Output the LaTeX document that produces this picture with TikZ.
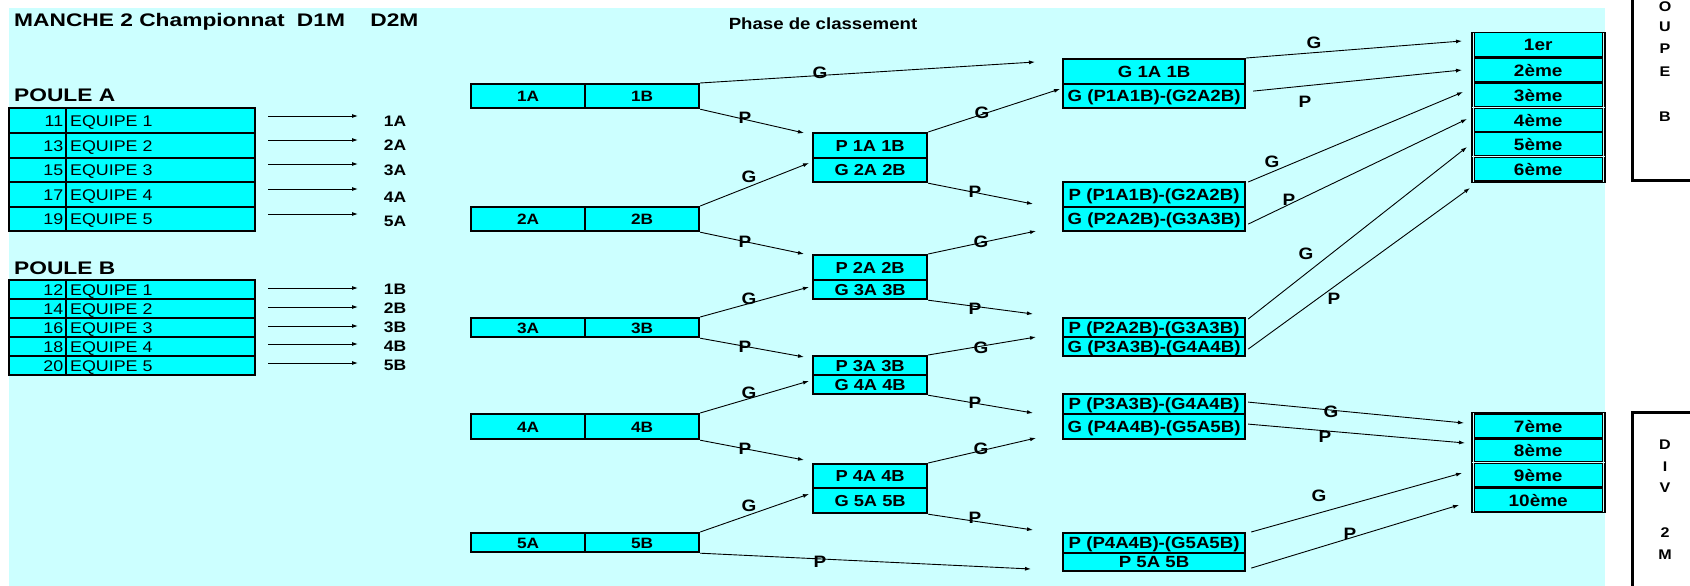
\documentclass[tikz,border=0pt]{standalone}
\usepackage{fontspec}
\setmainfont{Liberation Sans}[FakeStretch=1.15]
\newfontfamily\titlefont{Liberation Sans}[FakeStretch=1.25]
\usetikzlibrary{arrows.meta}
\definecolor{bgcyan}{HTML}{CCFFFF}
\definecolor{boxcyan}{HTML}{00FFFF}
\begin{document}
\begin{tikzpicture}[x=1pt,y=-1pt,
  arr/.style={-{Latex[length=6pt,width=4pt]}, line width=0.9pt},
  tnum/.style={draw=black, fill=boxcyan, line width=2.4pt, anchor=north west, text width=51pt, align=right, inner xsep=3pt, inner ysep=0pt, text height=11.2pt, text depth=0pt, font=\fontsize{15.5}{16}\selectfont},
  tname/.style={draw=black, fill=boxcyan, line width=2.4pt, anchor=north west, text width=181pt, align=left, inner xsep=4pt, inner ysep=0pt, text height=11.2pt, text depth=0pt, font=\fontsize{15.5}{16}\selectfont},
  cell/.style={draw=black, fill=boxcyan, line width=2.2pt, anchor=north west, inner sep=0pt, text height=11pt, text depth=0pt, font=\bfseries\fontsize{15}{16}\selectfont},
  cellb/.style={cell, minimum width=114pt, text height=11.4pt, font=\bfseries\fontsize{15.9}{16}\selectfont},
  cellc/.style={cell, minimum width=182pt, text height=11.6pt, font=\bfseries\fontsize{16.2}{16.5}\selectfont},
  fcell/.style={fill=boxcyan, draw=none, anchor=north west, inner sep=0pt, minimum width=127pt, text height=11.8pt, text depth=0pt, font=\bfseries\fontsize{16.5}{17}\selectfont},
  fback/.style={fill=black, draw=none, anchor=north west, inner sep=0pt, minimum width=135pt},
  lbl/.style={inner sep=0pt, font=\bfseries\fontsize{16.5}{17}\selectfont},
  lab/.style={inner sep=0pt, font=\bfseries\fontsize{15.2}{16}\selectfont},
  vlet/.style={inner sep=0pt, font=\bfseries\fontsize{14}{15}\selectfont},
  gline/.style={line width=3pt, draw=black}
]
\useasboundingbox (0,0) rectangle (1690,586);
\clip (0,0) rectangle (1690,586);
\fill[white] (0,0) rectangle (1690,586);
\fill[bgcyan] (9,8) rectangle (1605,586);

% titles
\node[inner sep=0pt, anchor=west, font=\titlefont\bfseries\fontsize{18.2}{19}\selectfont] (title) at (14,22) {MANCHE 2 Championnat\hspace{6pt} D1M\hspace{19pt} D2M};
\node[inner sep=0pt, font=\bfseries\fontsize{16.2}{17}\selectfont] (phase) at (823,24) {Phase de classement};
\node[inner sep=0pt, anchor=west, font=\titlefont\bfseries\fontsize{18.2}{19}\selectfont] (pouleA) at (14,95) {POULE A};
\node[inner sep=0pt, anchor=west, font=\titlefont\bfseries\fontsize{18.2}{19}\selectfont] (pouleB) at (14,268) {POULE B};

% poule A table
\node[tnum, minimum height=25pt] (pa1n) at (8,107) {11};
\node[tname, minimum height=25pt] (pa1t) at (65,107) {EQUIPE 1};
\node[tnum, minimum height=25pt] (pa2n) at (8,132) {13};
\node[tname, minimum height=25pt] (pa2t) at (65,132) {EQUIPE 2};
\node[tnum, minimum height=24pt] (pa3n) at (8,157) {15};
\node[tname, minimum height=24pt] (pa3t) at (65,157) {EQUIPE 3};
\node[tnum, minimum height=25pt] (pa4n) at (8,181) {17};
\node[tname, minimum height=25pt] (pa4t) at (65,181) {EQUIPE 4};
\node[tnum, minimum height=24pt] (pa5n) at (8,206) {19};
\node[tname, minimum height=24pt] (pa5t) at (65,206) {EQUIPE 5};

% poule B table
\node[tnum, minimum height=19pt] (pb1n) at (8,279) {12};
\node[tname, minimum height=19pt] (pb1t) at (65,279) {EQUIPE 1};
\node[tnum, minimum height=19pt] (pb2n) at (8,298) {14};
\node[tname, minimum height=19pt] (pb2t) at (65,298) {EQUIPE 2};
\node[tnum, minimum height=19pt] (pb3n) at (8,317) {16};
\node[tname, minimum height=19pt] (pb3t) at (65,317) {EQUIPE 3};
\node[tnum, minimum height=19pt] (pb4n) at (8,336) {18};
\node[tname, minimum height=19pt] (pb4t) at (65,336) {EQUIPE 4};
\node[tnum, minimum height=19pt] (pb5n) at (8,355) {20};
\node[tname, minimum height=19pt] (pb5t) at (65,355) {EQUIPE 5};

% poule arrows and labels
\foreach \i/\ya/\yl in {1/116/121, 2/140/145, 3/164/170, 4/189/197, 5/214/221} {
  \coordinate (as\i) at (268,\ya);
  \coordinate (ae\i) at (358,\ya);
  \draw[arr] (as\i) -- (ae\i);
  \node[lab] (la\i) at (395,\yl) {\i A};
}
\foreach \i/\ya/\yl in {1/288/289, 2/307/308, 3/326/327, 4/344/346, 5/363/365} {
  \coordinate (bs\i) at (268,\ya);
  \coordinate (be\i) at (358,\ya);
  \draw[arr] (bs\i) -- (be\i);
  \node[lab] (lb\i) at (395,\yl) {\i B};
}

% round 1 pair boxes
\node[cell, minimum width=114pt, minimum height=24pt] (r1a1) at (470,83) {1A};
\node[cell, minimum width=114pt, minimum height=24pt] (r1b1) at (584,83) {1B};
\node[cell, minimum width=114pt, minimum height=24pt] (r1a2) at (470,206) {2A};
\node[cell, minimum width=114pt, minimum height=24pt] (r1b2) at (584,206) {2B};
\node[cell, minimum width=114pt, minimum height=19pt] (r1a3) at (470,317) {3A};
\node[cell, minimum width=114pt, minimum height=19pt] (r1b3) at (584,317) {3B};
\node[cell, minimum width=114pt, minimum height=25pt] (r1a4) at (470,413) {4A};
\node[cell, minimum width=114pt, minimum height=25pt] (r1b4) at (584,413) {4B};
\node[cell, minimum width=114pt, minimum height=19pt] (r1a5) at (470,532) {5A};
\node[cell, minimum width=114pt, minimum height=19pt] (r1b5) at (584,532) {5B};

% round 2 boxes
\node[cellb, minimum height=25pt] (s1t) at (812,132) {P 1A 1B};
\node[cellb, minimum height=24pt] (s1b) at (812,157) {G 2A 2B};
\node[cellb, minimum height=25pt] (s2t) at (812,254) {P 2A 2B};
\node[cellb, minimum height=19pt] (s2b) at (812,279) {G 3A 3B};
\node[cellb, minimum height=19pt] (s3t) at (812,355) {P 3A 3B};
\node[cellb, minimum height=19pt] (s3b) at (812,374) {G 4A 4B};
\node[cellb, minimum height=24pt] (s4t) at (812,463) {P 4A 4B};
\node[cellb, minimum height=25pt] (s4b) at (812,487) {G 5A 5B};

% round 3 boxes
\node[cellc, minimum height=25pt] (t1t) at (1062,58) {G 1A 1B};
\node[cellc, minimum height=24pt] (t1b) at (1062,83) {G (P1A1B)-(G2A2B)};
\node[cellc, minimum height=25pt] (t2t) at (1062,181) {P (P1A1B)-(G2A2B)};
\node[cellc, minimum height=24pt] (t2b) at (1062,206) {G (P2A2B)-(G3A3B)};
\node[cellc, minimum height=19pt] (t3t) at (1062,317) {P (P2A2B)-(G3A3B)};
\node[cellc, minimum height=19pt] (t3b) at (1062,336) {G (P3A3B)-(G4A4B)};
\node[cellc, minimum height=20pt] (t4t) at (1062,393) {P (P3A3B)-(G4A4B)};
\node[cellc, minimum height=25pt] (t4b) at (1062,413) {G (P4A4B)-(G5A5B)};
\node[cellc, minimum height=20pt] (t5t) at (1062,532) {P (P4A4B)-(G5A5B)};
\node[cellc, minimum height=18pt] (t5b) at (1062,552) {P 5A 5B};

% final ranking blocks
\node[fback, minimum height=151pt] (fb1) at (1471,32) {};
\node[fcell, minimum height=23pt] (f1) at (1474.5,33) {1er};
\node[fcell, minimum height=22pt] (f2) at (1474.5,59) {2ème};
\node[fcell, minimum height=22pt] (f3) at (1474.5,84) {3ème};
\node[fcell, minimum height=22pt] (f4) at (1474.5,109) {4ème};
\node[fcell, minimum height=22pt] (f5) at (1474.5,133) {5ème};
\node[fcell, minimum height=22pt] (f6) at (1474.5,158) {6ème};
\draw[bgcyan, line width=0.6pt] (1473,33) -- (1473,182) (1603.6,33) -- (1603.6,182)
  (1472,107.5) -- (1605,107.5) (1472,156.6) -- (1605,156.6);

\node[fback, minimum height=101pt] (fb2) at (1471,412) {};
\node[fcell, minimum height=22pt] (f7) at (1474.5,415) {7ème};
\node[fcell, minimum height=21pt] (f8) at (1474.5,440) {8ème};
\node[fcell, minimum height=22pt] (f9) at (1474.5,464) {9ème};
\node[fcell, minimum height=22pt] (f10) at (1474.5,489) {10ème};
\draw[bgcyan, line width=0.6pt] (1473,413) -- (1473,512) (1603.6,413) -- (1603.6,512)
  (1472,462.6) -- (1605,462.6);

% group boxes on the right
\draw[gline] (1632,-10) -- (1632,180) -- (1700,180);
\draw[gline] (1700,412) -- (1632,412) -- (1632,600);
\foreach \n/\y/\t in {o/7/O, u/27/U, p/49/P, e/72/E, b/117/B, d/445/D, i/467/I, v/488/V, two/533/2, m/555/M} {
  \node[vlet] (v\n) at (1665,\y) {\t};
}

% level 1 -> 2
\coordinate (e1) at (1035,62);
\coordinate (e2) at (804,133);
\coordinate (e3) at (809,163);
\coordinate (e4) at (804,254);
\coordinate (e5) at (809,287);
\coordinate (e6) at (804,357);
\coordinate (e7) at (809,381);
\coordinate (e8) at (804,460);
\coordinate (e9) at (809,494);
\coordinate (e10) at (1031,569);
\draw[arr] (r1b1.north east) -- (e1);
\draw[arr] (r1b1.south east) -- (e2);
\draw[arr] (r1b2.north east) -- (e3);
\draw[arr] (r1b2.south east) -- (e4);
\draw[arr] (r1b3.north east) -- (e5);
\draw[arr] (r1b3.south east) -- (e6);
\draw[arr] (r1b4.north east) -- (e7);
\draw[arr] (r1b4.south east) -- (e8);
\draw[arr] (r1b5.north east) -- (e9);
\draw[arr] (r1b5.south east) -- (e10);
\node[lbl] (l1) at (820,73) {G};
\node[lbl] (l2) at (745,118) {P};
\node[lbl] (l3) at (749,177) {G};
\node[lbl] (l4) at (745,242) {P};
\node[lbl] (l5) at (749,299) {G};
\node[lbl] (l6) at (745,347) {P};
\node[lbl] (l7) at (749,393) {G};
\node[lbl] (l8) at (745,449) {P};
\node[lbl] (l9) at (749,506) {G};
\node[lbl] (l10) at (820,562) {P};

% level 2 -> 3
\coordinate (e11) at (1060,89);
\coordinate (e12) at (1033,204);
\coordinate (e13) at (1036,231);
\coordinate (e14) at (1033,314);
\coordinate (e15) at (1036,337);
\coordinate (e16) at (1033,413);
\coordinate (e17) at (1036,438);
\coordinate (e18) at (1033,530);
\draw[arr] (s1t.north east) -- (e11);
\draw[arr] (s1b.south east) -- (e12);
\draw[arr] (s2t.north east) -- (e13);
\draw[arr] (s2b.south east) -- (e14);
\draw[arr] (s3t.north east) -- (e15);
\draw[arr] (s3b.south east) -- (e16);
\draw[arr] (s4t.north east) -- (e17);
\draw[arr] (s4b.south east) -- (e18);
\node[lbl] (l11) at (982,113) {G};
\node[lbl] (l12) at (975,192) {P};
\node[lbl] (l13) at (981,242) {G};
\node[lbl] (l14) at (975,309) {P};
\node[lbl] (l15) at (981,348) {G};
\node[lbl] (l16) at (975,403) {P};
\node[lbl] (l17) at (981,449) {G};
\node[lbl] (l18) at (975,518) {P};

% level 3 -> final
\coordinate (e19) at (1462,41);
\coordinate (e20) at (1462,70);
\coordinate (e21) at (1463,92);
\coordinate (e22) at (1467,119);
\coordinate (e23) at (1467,147);
\coordinate (e24) at (1470,188);
\coordinate (e25) at (1464,423);
\coordinate (e26) at (1465,443);
\coordinate (e27) at (1462,473);
\coordinate (e28) at (1459,505);
\draw[arr] (t1t.north east) -- (e19);
\draw[arr] ([shift={(7,-5)}]t1b.east) -- (e20);
\draw[arr] ([shift={(2,1)}]t2t.north east) -- (e21);
\draw[arr] ([shift={(2,5)}]t2b.east) -- (e22);
\draw[arr] ([shift={(2,2)}]t3t.north east) -- (e23);
\draw[arr] ([shift={(2,2.5)}]t3b.east) -- (e24);
\draw[arr] ([shift={(2,-2)}]t4t.east) -- (e25);
\draw[arr] ([shift={(2,-2.5)}]t4b.east) -- (e26);
\draw[arr] ([shift={(5,0)}]t5t.north east) -- (e27);
\draw[arr] ([shift={(5,6)}]t5b.east) -- (e28);
\node[lbl] (l19) at (1314,43) {G};
\node[lbl] (l20) at (1305,102) {P};
\node[lbl] (l21) at (1272,162) {G};
\node[lbl] (l22) at (1289,200) {P};
\node[lbl] (l23) at (1306,254) {G};
\node[lbl] (l24) at (1334,299) {P};
\node[lbl] (l25) at (1331,412) {G};
\node[lbl] (l26) at (1325,437) {P};
\node[lbl] (l27) at (1319,496) {G};
\node[lbl] (l28) at (1350,534) {P};
\end{tikzpicture}
\end{document}
